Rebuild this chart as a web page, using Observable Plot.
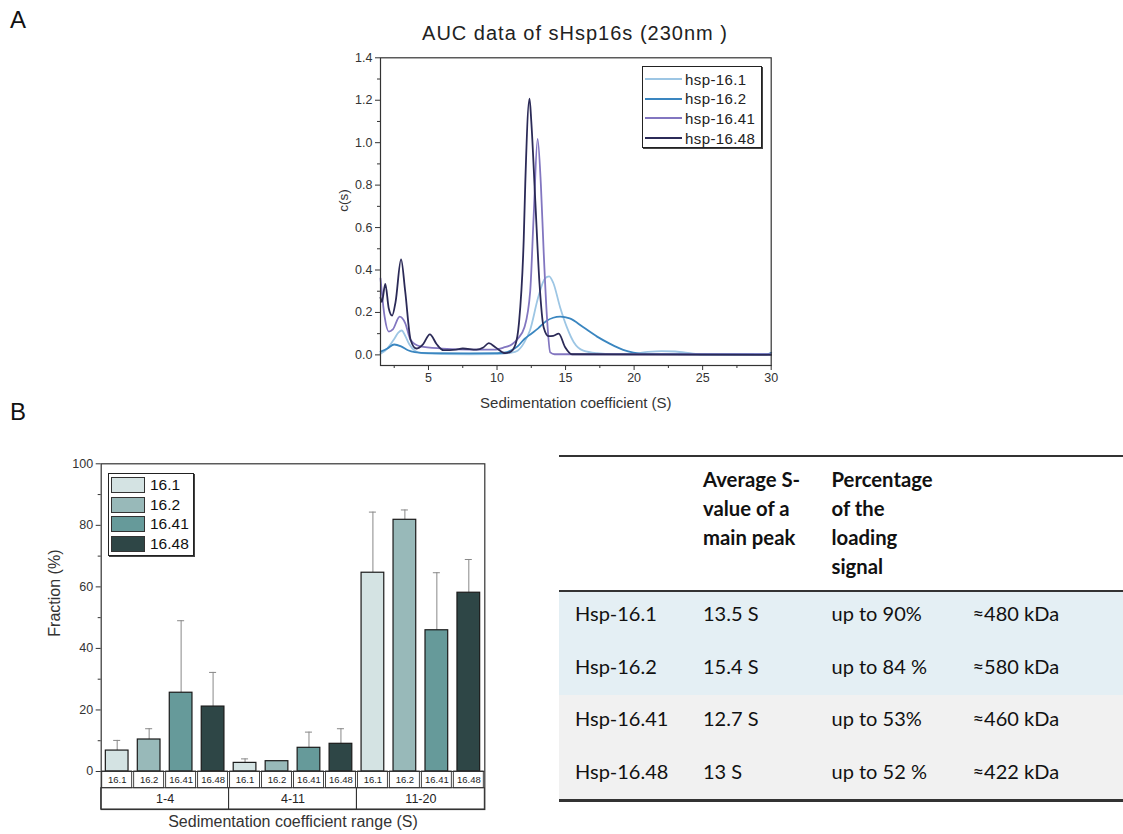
<!DOCTYPE html>
<html><head><meta charset="utf-8">
<script src="https://cdn.jsdelivr.net/npm/d3@7"></script>
<script src="https://cdn.jsdelivr.net/npm/@observablehq/plot@0.6"></script>
<style>
body{margin:0;background:#fff;}
#root{position:relative;width:1123px;height:834px;overflow:hidden;font-family:"Liberation Sans",Arial,sans-serif;color:#222;}
.abs{position:absolute;}
.panel{font-size:24px;color:#111;}
.leg{position:absolute;background:#fff;border:1px solid #222;box-shadow:1px 1px 0 #444;}
.tbl{position:absolute;font-family:Lato,"Open Sans",sans-serif;font-size:20px;color:#111;white-space:nowrap;}
</style></head><body><div id="root"></div>
<script>
// ---------- Panel A data: c(s) distributions ----------
const seriesNames = ["hsp-16.1","hsp-16.2","hsp-16.41","hsp-16.48"];
const seriesColors = ["#9dc6e4","#3a86c0","#8276c0","#2b2a57"];
const hsp161 = [[1.5,0.005],[2.0,0.03],[2.5,0.075],[2.8,0.105],[3.05,0.115],[3.3,0.09],[3.6,0.05],[4.0,0.02],[4.5,0.008],[6,0.004],[8,0.003],[10,0.004],[11,0.01],[11.5,0.02],[12,0.06],[12.4,0.115],[13.0,0.27],[13.5,0.36],[13.8,0.37],[14.1,0.34],[14.6,0.225],[15.1,0.13],[15.6,0.06],[16.3,0.02],[17.3,0.008],[18.5,0.004],[20,0.006],[21,0.014],[22,0.018],[23,0.016],[24.3,0.006],[25,0.002],[30,0.002]];
const hsp162 = [[1.5,0.015],[2.0,0.03],[2.5,0.049],[3.0,0.04],[3.5,0.022],[4.0,0.013],[5,0.008],[8,0.007],[10,0.008],[10.5,0.01],[11,0.02],[11.5,0.04],[12,0.075],[12.5,0.1],[13,0.125],[13.6,0.16],[14.1,0.175],[14.6,0.18],[15.3,0.172],[16.3,0.13],[17.3,0.086],[18.25,0.052],[19.2,0.024],[19.95,0.011],[20.9,0.005],[25,0.003],[29.7,0.003],[30,0.01]];
const hsp1641 = [[1.5,0.36],[1.8,0.18],[2.1,0.11],[2.4,0.12],[2.9,0.18],[3.3,0.15],[3.7,0.07],[4.4,0.04],[6,0.03],[8,0.025],[9.8,0.025],[10.5,0.035],[11.1,0.05],[11.5,0.075],[12.0,0.13],[12.42,0.3],[12.67,0.65],[12.96,1.018],[13.2,0.8],[13.4,0.49],[13.64,0.18],[13.88,0.012],[14.2,0.003],[30,0.003]];
const hsp1648 = [[1.5,0.27],[1.6,0.25],[1.85,0.335],[2.1,0.22],[2.35,0.185],[2.6,0.25],[3.0,0.45],[3.3,0.3],[3.7,0.07],[4.1,0.03],[4.6,0.05],[5.1,0.097],[5.6,0.05],[6.1,0.022],[7.0,0.025],[7.5,0.03],[8.5,0.025],[9.0,0.035],[9.4,0.055],[9.9,0.035],[10.6,0.008],[11.0,0.015],[11.35,0.05],[11.6,0.15],[11.95,0.55],[12.06,0.806],[12.37,1.207],[12.5,1.1],[12.79,0.727],[13.1,0.335],[13.4,0.13],[13.76,0.088],[14.1,0.09],[14.5,0.1],[14.97,0.036],[15.46,0.003],[30,0.0]];
const xTicksA = [5,10,15,20,25,30];
const xMinorA = [2.5,7.5,12.5,17.5,22.5,27.5];
const yTicksA = [0,0.2,0.4,0.6,0.8,1.0,1.2,1.4];
const yMinorA = [0.1,0.3,0.5,0.7,0.9,1.1,1.3];

// ---------- Panel B data: fractions ----------
const groups = ["1-4","4-11","11-20"];
const samples = ["16.1","16.2","16.41","16.48"];
const sampleColors = ["#d4e3e3","#98b9b9","#669a9a","#2e4646"];
const fractions = [[6.8,10.4,25.6,21.1],[2.8,3.35,7.7,9.0],[64.6,81.8,45.9,58.1]];
const errors = [[3.3,3.5,23.4,11.1],[1.3,0,5.1,4.9],[19.7,3.2,18.7,10.8]];
const yTicksB = [0,20,40,60,80,100];
const yMinorB = [10,30,50,70,90];

// ---------- Table data ----------
const tblProteins = ["Hsp-16.1","Hsp-16.2","Hsp-16.41","Hsp-16.48"];
const tblSvalue = ["13.5 S","15.4 S","12.7 S","13 S"];
const tblPercent = ["up to 90%","up to 84 %","up to 53%","up to 52 %"];
const tblMass = ["≈480 kDa","≈580 kDa","≈460 kDa","≈422 kDa"];
const tblHead2 = ["Average S-","value of a","main peak"];
const tblHead3 = ["Percentage","of the","loading","signal"];

const root = document.getElementById("root");
function addDiv(html, css, cls){const d=document.createElement("div");d.className=cls||"abs";d.style.cssText=css;d.innerHTML=html;root.appendChild(d);return d;}

// panel letters
addDiv("A","left:10px;top:6px;","abs panel");
addDiv("B","left:10px;top:398px;","abs panel");

// ---------- Panel A ----------
addDiv("AUC data of sHsp16s (230nm )","left:330px;width:490px;top:22px;text-align:center;font-size:20px;color:#222;letter-spacing:1px;");
const lineData = [hsp161,hsp162,hsp1641,hsp1648].flatMap((arr,k)=>arr.map(([x,y])=>({x,y,series:seriesNames[k]})));
const font = "Liberation Sans, Arial, sans-serif";
const plotA = Plot.plot({
  width: 460, height: 375,
  marginLeft: 50, marginRight: 19.3, marginTop: 12.3, marginBottom: 55,
  style: {fontFamily: font, fontSize: "12px", color: "#333", background: "transparent", overflow: "visible"},
  x: {domain: [1.5, 30]},
  y: {domain: [-0.05, 1.4]},
  color: {domain: seriesNames, range: seriesColors},
  marks: [
    Plot.line(lineData, {x: "x", y: "y", z: "series", stroke: "series", strokeWidth: 1.8, curve: "monotone-x"}),
    Plot.frame({stroke: "#333", strokeWidth: 1.2}),
    Plot.axisX({ticks: xTicksA, tickSize: 5, tickPadding: 3, fontSize: 12.5, anchor: "bottom", label: null}),
    Plot.axisX({ticks: xMinorA, tickSize: 3, tickFormat: () => "", anchor: "bottom", label: null}),
    Plot.axisY({ticks: yTicksA, tickSize: 5, tickPadding: 3, tickFormat: d3.format(".1f"), fontSize: 12.5, anchor: "left", label: null}),
    Plot.axisY({ticks: yMinorA, tickSize: 3, tickFormat: () => "", anchor: "left", label: null}),
    Plot.text(["Sedimentation coefficient (S)"], {frameAnchor: "bottom", dy: 42, fontSize: 15, fill: "#333", style: "letter-spacing:0.5px"}),
    Plot.text(["c(s)"], {frameAnchor: "left", dx: -37, rotate: -90, fontSize: 13.5, fill: "#333"})
  ]
});
const wrapA = addDiv("","left:330px;top:45px;");
wrapA.appendChild(plotA);
// legend A
const legA = addDiv("","left:642px;top:66px;width:118px;height:80px;","leg");
seriesNames.forEach((n,k)=>{
  const row=document.createElement("div");
  row.style.cssText=`position:absolute;left:2px;top:${3+k*19.7}px;height:18px;display:flex;align-items:center;font-size:15px;letter-spacing:0.4px;color:#222;`;
  row.innerHTML=`<span style="display:inline-block;width:37px;height:2px;background:${seriesColors[k]};margin-right:3px"></span>${n}`;
  legA.appendChild(row);
});

// ---------- Panel B ----------
const rows = groups.flatMap((g,gi)=>samples.map((s,si)=>({group:g,sample:s,i:gi*4+si,value:fractions[gi][si],err:errors[gi][si]})));
const groupRows = groups.map((g,gi)=>({group:g,i0:gi*samples.length,i1:(gi+1)*samples.length}));
const cellBottom = -5.43, groupBottom = -12.35;
const plotB = Plot.plot({
  width: 520, height: 384,
  marginLeft: 100.7, marginRight: 35.7, marginTop: 13.3, marginBottom: 25,
  style: {fontFamily: font, fontSize: "12px", color: "#333", background: "transparent", overflow: "visible"},
  x: {domain: [0, rows.length], axis: null},
  y: {domain: [groupBottom, 100]},
  color: {domain: samples, range: sampleColors},
  marks: [
    Plot.ruleX(rows.filter(d=>d.err>0), {x: d=>d.i+0.5, y1: "value", y2: d=>d.value+d.err, stroke: "#888", strokeWidth: 1}),
    Plot.ruleY(rows.filter(d=>d.err>0), {y: d=>d.value+d.err, x1: d=>d.i+0.39, x2: d=>d.i+0.61, stroke: "#888", strokeWidth: 1}),
    Plot.rect(rows, {x1: d=>d.i+0.145, x2: d=>d.i+0.855, y1: 0, y2: "value", fill: "sample", stroke: "#1a1a1a", strokeWidth: 1.2}),
    Plot.rect(rows, {x1: "i", x2: d=>d.i+1, y1: 0, y2: cellBottom, fill: "white", stroke: "#333", strokeWidth: 0.9, insetLeft: 1, insetRight: 1}),
    Plot.text(rows, {x: d=>d.i+0.5, y: cellBottom/2, text: "sample", fontSize: 9.5, fill: "#222"}),
    Plot.rect(groupRows, {x1: "i0", x2: "i1", y1: cellBottom, y2: groupBottom, fill: "none", stroke: "#333", strokeWidth: 1}),
    Plot.text(groupRows, {x: d=>(d.i0+d.i1)/2, y: (cellBottom+groupBottom)/2, text: "group", fontSize: 12.5, fill: "#222"}),
    Plot.ruleY([0], {stroke: "#333", strokeWidth: 1}),
    Plot.frame({stroke: "#333", strokeWidth: 1.2}),
    Plot.axisY({ticks: yTicksB, tickSize: 5, tickPadding: 3, fontSize: 12.5, anchor: "left", label: null}),
    Plot.axisY({ticks: yMinorB, tickSize: 3, tickFormat: () => "", anchor: "left", label: null}),
    Plot.text(["Sedimentation coefficient range (S)"], {frameAnchor: "bottom", dy: 17, fontSize: 16, fill: "#333"}),
    Plot.text(["Fraction (%)"], {frameAnchor: "left", dx: -46, rotate: -90, fontSize: 16, fill: "#333"})
  ]
});
const wrapB = addDiv("","left:0px;top:450px;");
wrapB.appendChild(plotB);
// legend B
const legB = addDiv("","left:108px;top:473px;width:84px;height:81px;","leg");
samples.forEach((s,k)=>{
  const row=document.createElement("div");
  row.style.cssText=`position:absolute;left:2px;top:${2+k*19.7}px;height:18px;display:flex;align-items:center;font-size:15.5px;color:#111;`;
  row.innerHTML=`<span style="display:inline-block;width:32px;height:14px;background:${sampleColors[k]};border:1.5px solid #333;margin-right:5px"></span>${s}`;
  legB.appendChild(row);
});

// ---------- Table ----------
const tL = 559, colX = [575,703,831.5,972.5];
addDiv("","left:"+tL+"px;right:0;top:455px;height:2px;background:#333;");
addDiv("","left:"+tL+"px;right:0;top:589.5px;height:2.5px;background:#333;");
addDiv("","left:"+tL+"px;right:0;top:592px;height:103px;background:#e4eff4;");
addDiv("","left:"+tL+"px;right:0;top:695px;height:104px;background:#f1f1f1;");
addDiv("","left:"+tL+"px;right:0;top:799px;height:2.5px;background:#333;");
addDiv(tblHead2.join("<br>"),`left:${colX[1]}px;top:464.5px;line-height:29.3px;font-weight:bold;font-size:20.3px;`,"tbl");
addDiv(tblHead3.join("<br>"),`left:${colX[2]}px;top:464.5px;line-height:29.3px;font-weight:bold;font-size:20.3px;`,"tbl");
const rowY = [613.3,665.7,718.3,771];
[tblProteins,tblSvalue,tblPercent,tblMass].forEach((col,c)=>{
  col.forEach((t,r)=>{ addDiv(t,`left:${colX[c]}px;top:${rowY[r]-14}px;line-height:28px;`,"tbl"); });
});
</script></body></html>
